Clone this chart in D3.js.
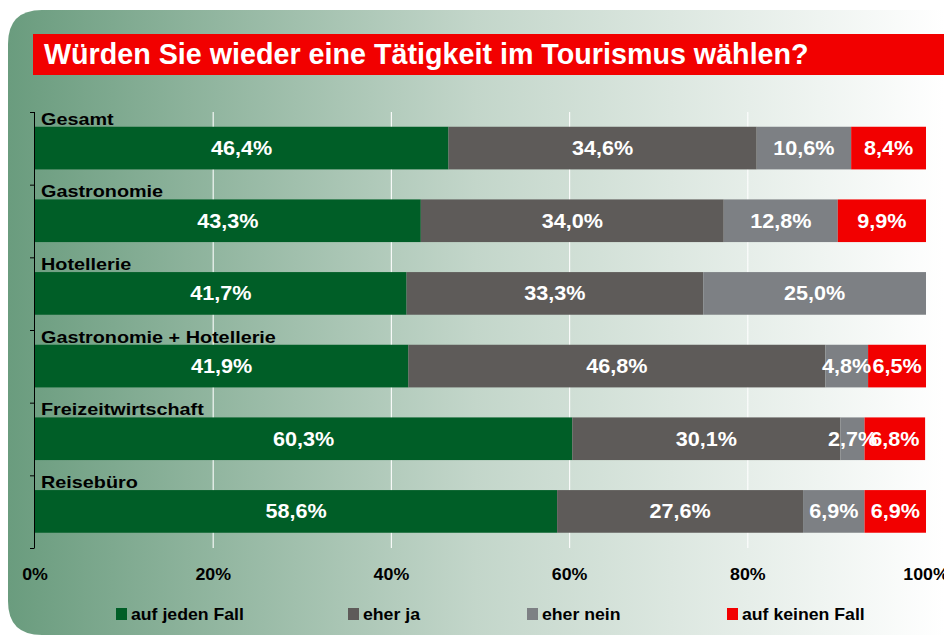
<!DOCTYPE html>
<html><head><meta charset="utf-8">
<script src="https://cdn.jsdelivr.net/npm/d3@7"></script>
<style>body{margin:0;background:#fff;}svg{display:block;font-family:"Liberation Sans",Arial,sans-serif;}</style>
</head><body>
<script>
const title = "Würden Sie wieder eine Tätigkeit im Tourismus wählen?";
const categories = ["Gesamt","Gastronomie","Hotellerie","Gastronomie + Hotellerie","Freizeitwirtschaft","Reisebüro"];
const seriesNames = ["auf jeden Fall","eher ja","eher nein","auf keinen Fall"];
const aufJedenFall = [46.4,43.3,41.7,41.9,60.3,58.6];
const eherJa = [34.6,34.0,33.3,46.8,30.1,27.6];
const eherNein = [10.6,12.8,25.0,4.8,2.7,6.9];
const aufKeinenFall = [8.4,9.9,0,6.5,6.8,6.9];
const xTicks = [0,20,40,60,80,100];
const colors = ["#005e27","#5e5b59","#7d8084","#f20000"];

const W=944,H=635;
const svg=d3.select("body").append("svg").attr("width",W).attr("height",H);
const defs=svg.append("defs");
const g=defs.append("linearGradient").attr("id","bg").attr("x1","0").attr("x2","1").attr("y1","0").attr("y2","0");
g.append("stop").attr("offset","0").attr("stop-color","#6a9c7e");
g.append("stop").attr("offset","0.5").attr("stop-color","#c3d6ca");
g.append("stop").attr("offset","1").attr("stop-color","#ffffff");
const px=8,py=10,pr=34;
svg.append("path").attr("d",`M${W},${py} L${px+pr},${py} Q${px},${py} ${px},${py+pr} L${px},${H-pr} Q${px},${H} ${px+pr},${H} L${W},${H} Z`).attr("fill","url(#bg)");

function stext(sel,x,y,sx){ return sel.attr("x",0).attr("y",0).attr("transform",`translate(${x},${y}) scale(${sx},1)`); }

// title
svg.append("rect").attr("x",33).attr("y",34).attr("width",W-33).attr("height",41).attr("fill","#f20000");
stext(svg.append("text"),44,64,1.0).attr("fill","#fff").attr("font-size",28.7).attr("font-weight","bold").text(title);

const x=d3.scaleLinear().domain([0,100]).range([35,926]);
const y=d3.scaleBand().domain(categories).range([112,548]);
const step=y.step();

svg.append("g").selectAll("line").data(xTicks.slice(1,-1)).join("line")
 .attr("x1",d=>x(d)).attr("x2",d=>x(d)).attr("y1",112).attr("y2",548)
 .attr("stroke","#ffffff").attr("stroke-width",1.2).attr("opacity",0.9);

const series=[aufJedenFall,eherJa,eherNein,aufKeinenFall];
const rows=categories.map((c,i)=>{let s=0;return series.map((arr,k)=>{const v=arr[i];const o={c,k,v,x0:s,x1:s+v};s+=v;return o;});});
const bars=svg.append("g");
rows.forEach(r=>r.forEach(d=>{
  if(d.v<=0) return;
  const top=y(d.c)+step*0.203, h=step*0.587;
  bars.append("rect").attr("x",x(d.x0)).attr("y",top).attr("width",x(d.x1)-x(d.x0)).attr("height",h).attr("fill",colors[d.k]);
}));
rows.forEach(r=>r.forEach(d=>{
  if(d.v<=0) return;
  const top=y(d.c)+step*0.203, h=step*0.587;
  stext(bars.append("text"),(x(d.x0)+x(d.x1))/2,top+h/2+7,1.08).attr("text-anchor","middle")
   .attr("fill","#fff").attr("font-size",20).attr("font-weight","bold").text(d.v.toFixed(1).replace(".",",")+"%");
}));
// category labels
svg.append("g").selectAll("text").data(categories).join("text")
 .attr("transform",d=>`translate(41,${y(d)+12.5}) scale(1.2,1)`)
 .attr("font-size",16.5).attr("font-weight","bold").attr("fill","#000").text(d=>d);

// y axis
svg.append("line").attr("x1",34.5).attr("x2",34.5).attr("y1",112).attr("y2",548).attr("stroke","#000");
svg.append("g").selectAll("line").data(d3.range(categories.length+1)).join("line")
 .attr("x1",30).attr("x2",34.5).attr("y1",i=>112+i*step+0.5).attr("y2",i=>112+i*step+0.5).attr("stroke","#000");

// x axis labels
svg.append("g").selectAll("text").data(xTicks).join("text")
 .attr("transform",d=>`translate(${x(d)},580) scale(1.08,1)`).attr("text-anchor","middle")
 .attr("font-size",16.5).attr("font-weight","bold").attr("fill","#000").text(d=>d+"%");

// legend
const legX=[116,348,527,727];
const lg=svg.append("g");
seriesNames.forEach((n,i)=>{
  lg.append("rect").attr("x",legX[i]).attr("y",608).attr("width",11).attr("height",12).attr("fill",colors[i]);
  lg.append("text").attr("transform",`translate(${legX[i]+15},620) scale(1.04,1)`).attr("font-size",17).attr("font-weight","bold").attr("fill","#000").text(n);
});
</script>
</body></html>
